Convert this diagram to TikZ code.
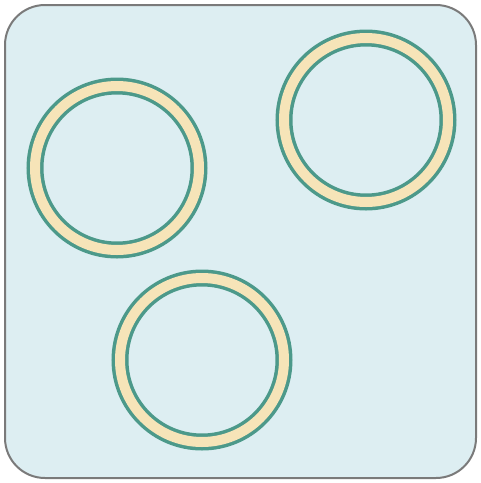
\documentclass[tikz,border=0pt]{standalone}
\usepackage{xcolor}
\usepackage{tikz}
\definecolor{panelfill}{HTML}{DDEEF2}
\definecolor{panelborder}{HTML}{7A7A7A}
\definecolor{ringgreen}{HTML}{4C998A}
\definecolor{ringbeige}{HTML}{F6E4B8}
\tikzset{
panel/.style={
draw=panelborder,
fill=panelfill,
rounded corners=40pt,
line width=2pt
},
ring/.style={
circle,
draw=ringgreen,
double=ringbeige,
double distance=10pt,
line width=3.5pt,
minimum size=164pt,
inner sep=0pt
}
}
\begin{document}
\begin{tikzpicture}[x=1pt,y=-1pt]
\useasboundingbox (0,0) rectangle (481,483);
\draw[panel] (5,5) rectangle (476,478);

\node[ring] (ringleft) at (117,168) {};
\node[ring] (ringright) at (366,120) {};
\node[ring] (ringbottom) at (202,360) {};

\end{tikzpicture}
\end{document}
